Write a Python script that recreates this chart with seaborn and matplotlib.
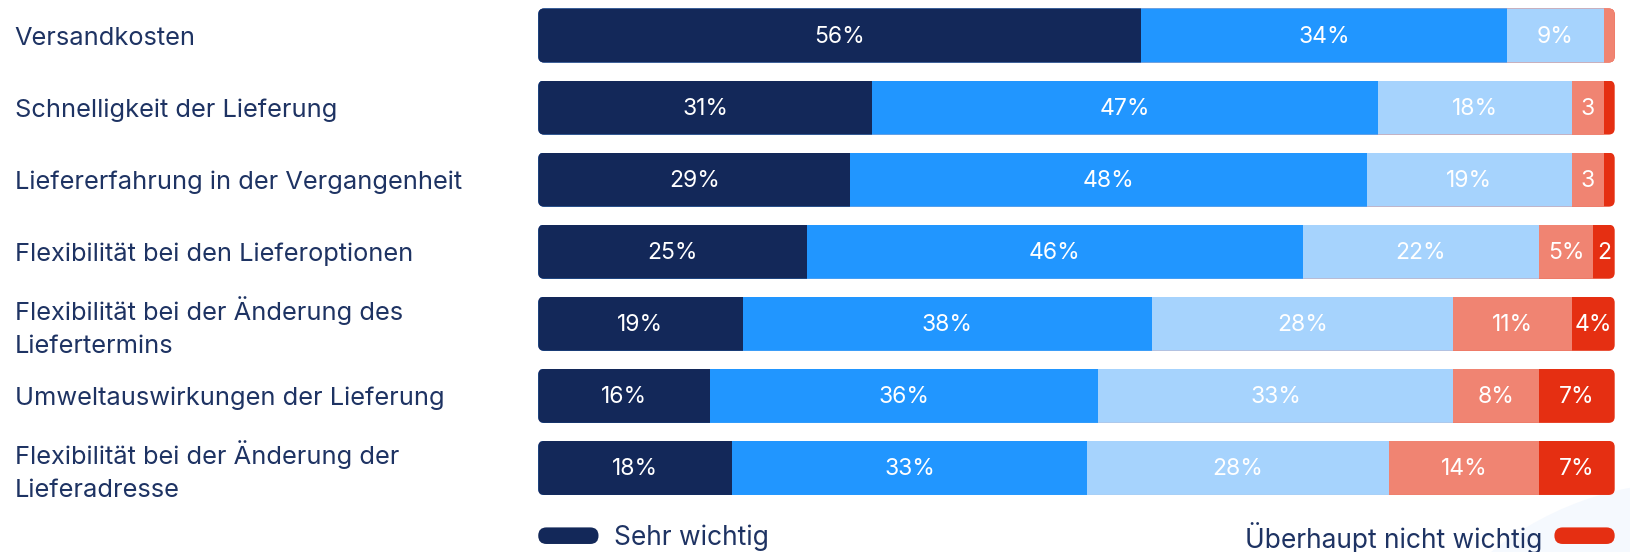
import numpy as np
import pandas as pd
import matplotlib
matplotlib.use("Agg")
import matplotlib.pyplot as plt
import matplotlib.transforms as mtransforms
from matplotlib.patches import FancyBboxPatch, Ellipse
import seaborn as sns

categories = [
    "Versandkosten",
    "Schnelligkeit der Lieferung",
    "Liefererfahrung in der Vergangenheit",
    "Flexibilität bei den Lieferoptionen",
    "Flexibilität bei der Änderung des\nLiefertermins",
    "Umweltauswirkungen der Lieferung",
    "Flexibilität bei der Änderung der\nLieferadresse",
]
series_names = ["Sehr wichtig", "Wichtig", "Eher wichtig", "Weniger wichtig", "Überhaupt nicht wichtig"]
sehr_wichtig = [56, 31, 29, 25, 19, 16, 18]
wichtig = [34, 47, 48, 46, 38, 36, 33]
eher_wichtig = [9, 18, 19, 22, 28, 33, 28]
weniger_wichtig = [1, 3, 3, 5, 11, 8, 14]
gar_nicht = [0, 1, 1, 2, 4, 7, 7]

colors = ["#132859", "#2196FF", "#A6D3FD", "#F08472", "#E52F12"]
navy = "#1E3363"

sns.set_theme(style="white")
plt.rcParams["font.family"] = ["Inter", "DejaVu Sans"]

vals = np.array([sehr_wichtig, wichtig, eher_wichtig, weniger_wichtig, gar_nicht], dtype=float).T
cum = np.cumsum(vals, axis=1)

fig = plt.figure(figsize=(16.31, 5.52), dpi=100)
fig.patch.set_facecolor("white")
# decorative faint circle
fig.patches.append(Ellipse((1690 / 1631, 1 - 800 / 552), 2 * 318 / 1631, 2 * 318 / 552,
                           transform=fig.transFigure, facecolor="#F5F9FE", edgecolor="none", zorder=-5))

ax = fig.add_axes([0.330, 0.087, 0.660, 0.914])
ax.set_facecolor("none")
ax.set_zorder(2)

bar_h = 0.75
for i in reversed(range(5)):
    df = pd.DataFrame({"cat": categories, "v": cum[:, i]})
    sns.barplot(data=df, x="v", y="cat", color=colors[i], saturation=1, width=bar_h,
                orient="h", ax=ax, linewidth=0)

ax.set_xlim(0, 100)
ax.set_ylim(len(categories) - 0.5, -0.5)

# rounded clipping per row
px_per_x = 0.660 * 1631 / 100
px_per_y = 0.914 * 552 / (len(categories))
aspect = (1 / px_per_y) / (1 / px_per_x)
r_px = 6
clips = []
for r in range(len(categories)):
    cp = FancyBboxPatch((0, r - bar_h / 2), 100, bar_h,
                        boxstyle=f"round,pad=0,rounding_size={r_px / px_per_x}",
                        mutation_aspect=aspect, transform=ax.transData)
    clips.append(cp)
for p in ax.patches:
    row = int(round(p.get_y() + p.get_height() / 2))
    if 0 <= row < len(categories):
        p.set_clip_path(clips[row])

# value labels
for r in range(len(categories)):
    for i in range(5):
        v = vals[r, i]
        if v < 2:
            continue
        txt = f"{int(v)}%" if v >= 4 else f"{int(v)}"
        xc = cum[r, i] - v / 2
        ax.text(xc, r + 0.02, txt, ha="center", va="center", color="white", fontsize=16.5)

ax.set_xlabel("")
ax.set_ylabel("")
ax.set_xticks([])
ax.set_yticks([])
for s in ax.spines.values():
    s.set_visible(False)

# category labels
trans = mtransforms.blended_transform_factory(fig.transFigure, ax.transData)
for r, c in enumerate(categories):
    ax.text(0.009, r + 0.04, c, transform=trans, ha="left", va="center", color=navy,
            fontsize=18.3, linespacing=1.55)

# legend
ly = 6.94
lh = 0.23
rr = 0.77
for x0, col in [(0, colors[0]), (94.4, colors[4])]:
    pill = FancyBboxPatch((x0, ly - lh / 2), 5.6, lh,
                          boxstyle=f"round,pad=0,rounding_size={rr}",
                          mutation_aspect=aspect, transform=ax.transData,
                          facecolor=col, edgecolor="none", clip_on=False)
    ax.add_patch(pill)
ax.text(7.06, ly + 0.03, series_names[0], ha="left", va="center", color=navy, fontsize=19, clip_on=False)
ax.text(93.3, ly + 0.03, series_names[4], ha="right", va="center", color=navy, fontsize=19, clip_on=False)

fig.savefig("out.png", dpi=100, facecolor="white")
